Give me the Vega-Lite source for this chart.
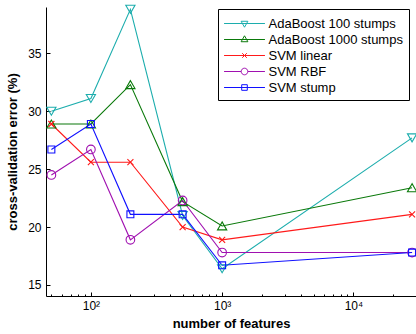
{
  "$schema": "https://vega.github.io/schema/vega-lite/v6.json",
  "width": 370,
  "height": 289,
  "autosize": {"type": "none"},
  "padding": {"left": 46, "top": 7, "right": 0, "bottom": 38},
  "background": "white",
  "config": {
    "view": {"stroke": null},
    "font": "Liberation Sans",
    "axis": {
      "domainColor": "black",
      "tickColor": "black",
      "labelColor": "black",
      "titleColor": "black",
      "labelFont": "Liberation Sans",
      "titleFont": "Liberation Sans",
      "labelFontSize": 12,
      "titleFontSize": 13,
      "titleFontWeight": "bold",
      "grid": false
    }
  },
  "data": {
    "values": [
      {"series": "AdaBoost 100 stumps", "n": 50, "err": 30.0},
      {"series": "AdaBoost 100 stumps", "n": 100, "err": 31.1},
      {"series": "AdaBoost 100 stumps", "n": 200, "err": 38.8},
      {"series": "AdaBoost 100 stumps", "n": 500, "err": 21.0},
      {"series": "AdaBoost 100 stumps", "n": 1000, "err": 16.4},
      {"series": "AdaBoost 100 stumps", "n": 28000, "err": 27.7},
      {"series": "AdaBoost 1000 stumps", "n": 50, "err": 28.9},
      {"series": "AdaBoost 1000 stumps", "n": 100, "err": 28.9},
      {"series": "AdaBoost 1000 stumps", "n": 200, "err": 32.3},
      {"series": "AdaBoost 1000 stumps", "n": 500, "err": 22.2},
      {"series": "AdaBoost 1000 stumps", "n": 1000, "err": 20.1},
      {"series": "AdaBoost 1000 stumps", "n": 28000, "err": 23.4},
      {"series": "SVM linear", "n": 50, "err": 28.9},
      {"series": "SVM linear", "n": 100, "err": 25.6},
      {"series": "SVM linear", "n": 200, "err": 25.6},
      {"series": "SVM linear", "n": 500, "err": 20.0},
      {"series": "SVM linear", "n": 1000, "err": 18.9},
      {"series": "SVM linear", "n": 28000, "err": 21.1},
      {"series": "SVM RBF", "n": 50, "err": 24.5},
      {"series": "SVM RBF", "n": 100, "err": 26.7},
      {"series": "SVM RBF", "n": 200, "err": 18.9},
      {"series": "SVM RBF", "n": 500, "err": 22.3},
      {"series": "SVM RBF", "n": 1000, "err": 17.8},
      {"series": "SVM RBF", "n": 28000, "err": 17.8},
      {"series": "SVM stump", "n": 50, "err": 26.7},
      {"series": "SVM stump", "n": 100, "err": 28.9},
      {"series": "SVM stump", "n": 200, "err": 21.1},
      {"series": "SVM stump", "n": 500, "err": 21.1},
      {"series": "SVM stump", "n": 1000, "err": 16.7},
      {"series": "SVM stump", "n": 28000, "err": 17.8}
    ]
  },
  "resolve": {"axis": {"x": "independent"}},
  "encoding": {
    "y": {
      "field": "err", "type": "quantitative",
      "scale": {"domain": [14.05, 39.0], "nice": false, "zero": false},
      "axis": {
        "values": [15, 20, 25, 30, 35],
        "tickSize": -4,
        "labelPadding": 9,
        "title": "cross-validation error (%)",
        "titlePadding": 8
      }
    }
  },
  "layer": [
    {
      "mark": {"type": "line", "strokeWidth": 1.1},
      "encoding": {
        "x": {
          "field": "n", "type": "quantitative",
          "scale": {"type": "log", "domain": [45.5, 30000], "nice": false},
          "axis": {
            "orient": "bottom",
            "values": [100, 1000, 10000],
            "labelExpr": "datum.value == 100 ? '10²' : datum.value == 1000 ? '10³' : '10⁴'",
            "tickSize": -4,
            "labelPadding": 8,
            "title": "number of features",
            "titlePadding": 6
          }
        },
        "color": {
          "field": "series", "type": "nominal",
          "scale": {
            "domain": ["AdaBoost 100 stumps", "AdaBoost 1000 stumps", "SVM linear", "SVM RBF", "SVM stump"],
            "range": ["#1CADAD", "#0A790A", "#FF1A1A", "#A010B0", "#1010FF"]
          },
          "legend": {
            "orient": "none",
            "legendX": 172,
            "legendY": 2,
            "title": null,
            "strokeColor": "black",
            "fillColor": "white",
            "padding": 5.5,
            "labelFont": "Liberation Sans",
            "labelFontSize": 13,
            "labelColor": "black",
            "labelOffset": 15,
            "symbolOffset": 12,
            "rowPadding": 0,
            "symbolSize": 272,
            "symbolStrokeWidth": 1,
            "encode": {
              "symbols": {
                "update": {
                  "fill": {"value": "transparent"},
                  "shape": {"signal": "datum.value == 'AdaBoost 100 stumps' ? 'M-2.48,0H2.48M-0.41,-0.27H0.41L0,0.45Z' : datum.value == 'AdaBoost 1000 stumps' ? 'M-2.48,0H2.48M-0.41,0.27H0.41L0,-0.45Z' : datum.value == 'SVM linear' ? 'M-2.48,0H2.48M-0.28,-0.28L0.28,0.28M-0.28,0.28L0.28,-0.28' : datum.value == 'SVM RBF' ? 'M-2.48,0H-0.4A0.4,0.4 0 1,1 0.4,0A0.4,0.4 0 1,1 -0.4,0M0.4,0H2.48' : 'M-2.48,0H2.48M-0.34,-0.34H0.34V0.34H-0.34Z'"}
                }
              }
            }
          }
        }
      }
    },
    {
      "transform": [{"filter": "datum.series == 'AdaBoost 100 stumps'"}],
      "mark": {"type": "point", "filled": false, "strokeWidth": 1.1, "opacity": 1, "shape": "triangle-down", "size": 85, "color": "#1CADAD"},
      "encoding": {
        "x": {
          "field": "n", "type": "quantitative",
          "axis": {
            "orient": "bottom",
            "values": [50, 60, 70, 80, 90, 200, 300, 400, 500, 600, 700, 800, 900, 2000, 3000, 4000, 5000, 6000, 7000, 8000, 9000, 20000, 30000],
            "labels": false,
            "domain": false,
            "tickSize": -2,
            "title": null
          }
        }
      }
    },
    {
      "transform": [{"filter": "datum.series == 'AdaBoost 1000 stumps'"}],
      "mark": {"type": "point", "filled": false, "strokeWidth": 1.1, "opacity": 1, "shape": "triangle-up", "size": 85, "color": "#0A790A"},
      "encoding": {"x": {"field": "n", "type": "quantitative", "axis": null}}
    },
    {
      "transform": [{"filter": "datum.series == 'SVM linear'"}],
      "mark": {"type": "point", "filled": false, "strokeWidth": 1.1, "opacity": 1, "shape": "M-1,-1L1,1M-1,1L1,-1", "size": 36, "color": "#FF1A1A"},
      "encoding": {"x": {"field": "n", "type": "quantitative", "axis": null}}
    },
    {
      "transform": [{"filter": "datum.series == 'SVM RBF'"}],
      "mark": {"type": "point", "filled": false, "strokeWidth": 1.1, "opacity": 1, "shape": "circle", "size": 75, "color": "#A010B0"},
      "encoding": {"x": {"field": "n", "type": "quantitative", "axis": null}}
    },
    {
      "transform": [{"filter": "datum.series == 'SVM stump'"}],
      "mark": {"type": "point", "filled": false, "strokeWidth": 1.1, "opacity": 1, "shape": "square", "size": 48, "color": "#1010FF"},
      "encoding": {"x": {"field": "n", "type": "quantitative", "axis": null}}
    }
  ]
}
